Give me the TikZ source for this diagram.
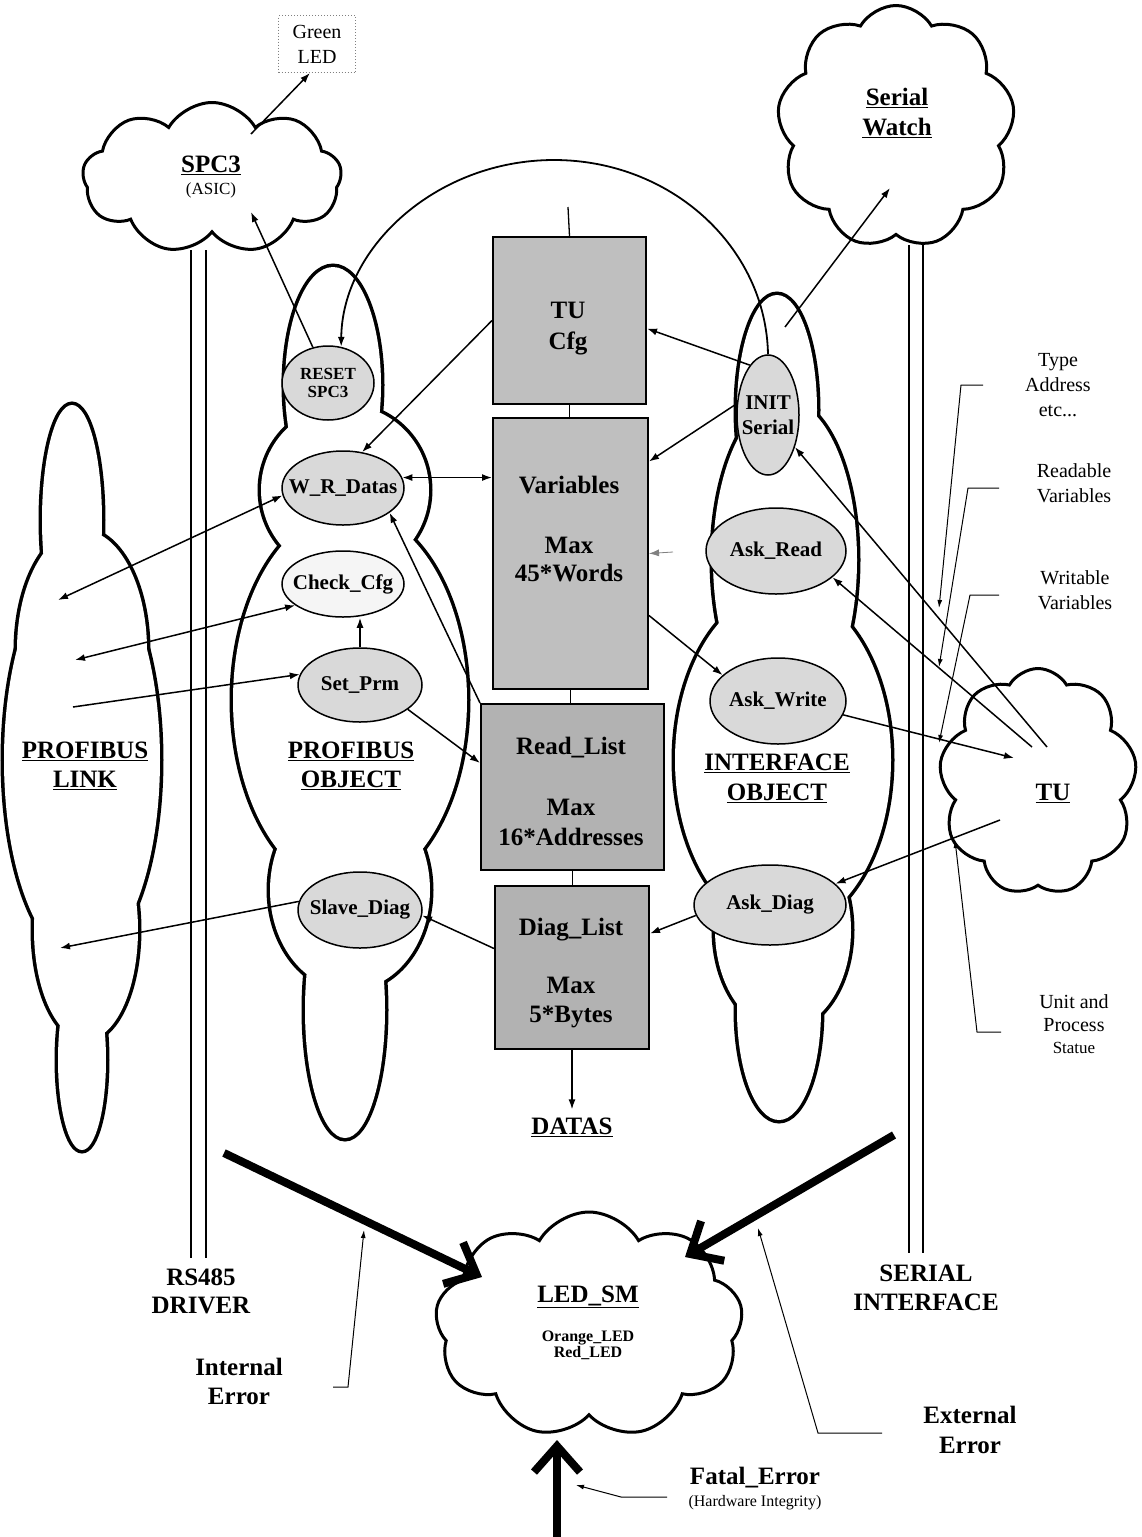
\documentclass[tikz,border=0pt]{standalone}
\usepackage{fontspec}
\setmainfont{Liberation Serif}
\usetikzlibrary{shapes.geometric,shapes.symbols,arrows.meta,calc}
\newcommand{\uln}[1]{\underline{#1}}
\newcommand{\zb}[1]{\makebox[0pt]{#1}}
\tikzset{
 lbl/.style={font=\fontsize{25}{29}\selectfont\bfseries, align=center, inner sep=0pt},
 boxT/.style={font=\fontsize{25}{28}\selectfont\bfseries, align=center, inner sep=0pt},
 ell/.style={ellipse, draw, line width=1.5pt, fill=gray!30, inner sep=0pt, font=\fontsize{21}{24}\selectfont\bfseries, align=center},
 memb/.style={rectangle, draw, line width=2pt, fill=gray!50, inner sep=0pt, anchor=north west},
 cld/.style={cloud, draw, line width=3pt, cloud puffs=9, cloud puff arc=120, cloud ignores aspect, inner sep=0pt, fill=white},
 con/.style={line width=1.5pt, -{Latex[length=10pt,width=7pt]}},
 dcon/.style={line width=1.5pt, {Latex[length=10pt,width=7pt]}-{Latex[length=10pt,width=7pt]}},
 lead/.style={line width=1pt, -{Latex[length=8pt,width=5pt]}},
 heavy/.style={line width=8pt, -{Straight Barb[length=26pt,width=46pt]}},
 note/.style={font=\fontsize{20}{25}\selectfont, align=center, inner sep=0pt},
 rail/.style={line width=1.4pt},
}
\begin{document}
\begin{tikzpicture}[x=1pt,y=-1pt]
\useasboundingbox (0,0) rectangle (1141,1537);
\fill[white] (0,0) rectangle (1141,1537);

% rails (RS485 driver and serial interface)
\draw[rail] (191,250) -- (191,1258);
\draw[rail] (206,250) -- (206,1258);
\draw[rail] (909,245) -- (909,1253);
\draw[rail] (923,245) -- (923,1253);

% object outlines: union of ellipses
\foreach \cx/\cy/\rx/\ry in {72/520/30/115, 82/650/65/120, 82/760/78/200, 86/930/52/110, 82/1060/24/90,
  333/385/48/118, 345/490/84/85, 350/700/117/190, 350/890/80/100, 345/1010/40/128,
  777/410/40/115, 785/560/72/160, 783/760/108/170, 783/930/68/100, 779/1010/42/110}
  \draw[line width=7pt] (\cx,\cy) ellipse [x radius=\rx pt, y radius=\ry pt];
\foreach \cx/\cy/\rx/\ry in {72/520/30/115, 82/650/65/120, 82/760/78/200, 86/930/52/110, 82/1060/24/90,
  333/385/48/118, 345/490/84/85, 350/700/117/190, 350/890/80/100, 345/1010/40/128,
  777/410/40/115, 785/560/72/160, 783/760/108/170, 783/930/68/100, 779/1010/42/110}
  \fill[white] (\cx,\cy) ellipse [x radius=\rx pt, y radius=\ry pt];

% clouds
\node[cld, minimum width=259pt, minimum height=151pt] (spc3) at (212,178) {};
\node[cld, minimum width=238pt, minimum height=243pt] (swatch) at (896,127) {};
\node[cld, minimum width=198pt, minimum height=227pt] (tu) at (1038,782) {};
\node[cld, minimum width=308pt, minimum height=226pt] (led) at (589,1325) {};

% green LED
\node[draw=gray, dotted, line width=1pt, minimum width=77pt, minimum height=57pt, note] (green) at (317,44) {Green\\LED};

% memory boxes
\coordinate (cfgTop) at (568,207);
\node[memb, minimum width=153pt, minimum height=167pt] (cfg) at (492,236) {};
\node[memb, minimum width=155pt, minimum height=271pt] (var) at (492,417) {};
\node[memb, minimum width=183pt, minimum height=166pt, fill=gray!60] (rlist) at (480,703) {};
\node[memb, minimum width=154pt, minimum height=163pt, fill=gray!60] (dlist) at (494,885) {};
\draw[line width=1.3pt] (cfgTop) -- (cfg.north);
\draw[line width=1.3pt] (cfg.south) -- (cfg.south |- var.north);
\draw[line width=1.3pt] (var.south) -- (var.south |- rlist.north);
\draw[line width=1.3pt] (rlist.south) -- (rlist.south |- dlist.north);

\node[boxT] (cfgT1) at (568,310) {TU};
\node[boxT] (cfgT2) at (568,343) {Cfg};
\node[boxT] (varT1) at (569,485) {Variables};
\node[boxT] (varT2) at (569,545) {Max};
\node[boxT] (varT3) at (569,573) {45*Words};
\node[boxT] (rlT1) at (571,748) {Read\_List};
\node[boxT] (rlT2) at (571,807) {Max};
\node[boxT] (rlT3) at (571,837) {16*Addresses};
\node[boxT] (dlT1) at (571,930) {Diag\_List};
\node[boxT] (dlT2) at (571,985) {Max};
\node[boxT] (dlT3) at (571,1017) {5*Bytes};

% function ellipses
\node[ell, minimum width=92pt, minimum height=74pt, font=\fontsize{17}{18}\selectfont\bfseries] (reset) at (328,383) {\zb{RESET}\\\zb{SPC3}};
\node[ell, minimum width=122pt, minimum height=74pt] (wr) at (343,488) {\zb{W\_R\_Datas}};
\node[ell, minimum width=122pt, minimum height=66pt, fill=gray!8] (check) at (343,584) {\zb{Check\_Cfg}};
\node[ell, minimum width=124pt, minimum height=74pt] (setp) at (360,685) {\zb{Set\_Prm}};
\node[ell, minimum width=124pt, minimum height=76pt] (slave) at (360,910) {\zb{Slave\_Diag}};
\node[ell, minimum width=62pt, minimum height=120pt, font=\fontsize{21}{25}\selectfont\bfseries] (init) at (768,415) {\zb{INIT}\\\zb{Serial}};
\node[ell, minimum width=140pt, minimum height=86pt] (askr) at (776,551) {\zb{Ask\_Read}};
\node[ell, minimum width=136pt, minimum height=86pt] (askw) at (778,701) {\zb{Ask\_Write}};
\node[ell, minimum width=152pt, minimum height=80pt] (askd) at (770,905) {\zb{Ask\_Diag}};

% labels
\node[lbl] (plink) at (85,766) {\uln{PROFIBUS}\\\uln{LINK}};
\node[lbl] (pobj) at (351,766) {\uln{PROFIBUS}\\\uln{OBJECT}};
\node[lbl, font=\fontsize{25}{30}\selectfont\bfseries] (iobj) at (777,778) {\uln{INTERFACE}\\\uln{OBJECT}};
\node[lbl] (spcT1) at (211,165) {\uln{SPC3}};
\node[inner sep=0pt, font=\fontsize{17}{18}\selectfont] (spcT2) at (211,190) {(ASIC)};
\node[lbl, font=\fontsize{25}{30}\selectfont\bfseries] (swT) at (897,113) {\uln{Serial}\\\uln{Watch}};
\node[lbl] (tuT) at (1053,793) {\uln{TU}};
\node[lbl] (ledT) at (588,1297) {\uln{LED\_SM}};
\node[inner sep=0pt, align=center, font=\fontsize{16}{16}\selectfont\bfseries] (ledT2) at (588,1345) {Orange\_LED\\Red\_LED};
\node[lbl] (datas) at (572,1127) {\uln{DATAS}};
\node[lbl, font=\fontsize{25}{28}\selectfont\bfseries] (rs485) at (201,1291) {RS485\\DRIVER};
\node[lbl] (serint) at (926,1288) {SERIAL\\INTERFACE};
\node[lbl, font=\fontsize{25}{29}\selectfont\bfseries] (interr) at (239,1381) {Internal\\Error};
\node[lbl, font=\fontsize{25}{30}\selectfont\bfseries] (exterr) at (970,1430) {External\\Error};
\node[lbl] (fatal) at (755,1478) {Fatal\_Error};
\node[inner sep=0pt, font=\fontsize{16}{18}\selectfont] (hw) at (755,1503) {(Hardware Integrity)};

\node[note] (n1) at (1058,385) {Type\\Address\\etc...};
\node[note] (n2) at (1074,483) {Readable\\Variables};
\node[note] (n3) at (1075,590) {Writable\\Variables};
\node[note, font=\fontsize{20}{23}\selectfont] (n4) at (1074,1013) {Unit and\\Process};
\node[inner sep=0pt, font=\fontsize{17}{18}\selectfont] (n5) at (1074,1048) {Statue};

% free ends
\coordinate (spcIn) at (251,212);
\coordinate (spcTop) at (251,134);
\coordinate (L1) at (58,600);
\coordinate (L2) at (75,660);
\coordinate (L3) at (73,707);
\coordinate (L4) at (60,948);
\coordinate (F1) at (673,552);
\coordinate (I1) at (785,327);
\coordinate (I2) at (890,188);
\coordinate (T1) at (1047,747);
\coordinate (T2) at (1032,747);
\coordinate (T3) at (1014,758);
\coordinate (T4) at (1000,820);
\coordinate (arcTop) at (554,160);

% connectors
\draw[con] (reset.113) -- (spcIn);
\draw[con] (spcTop) -- ([xshift=-7pt]green.south);
\draw[con, line width=1.8pt] (init.north) .. controls (766,247) and (671,160) .. (arcTop) .. controls (437,160) and (342,247) .. (reset.70);
\draw[con] (cfg.west) -- (wr.62);
\draw[dcon] (wr.10) -- (wr.10 -| var.west);
\draw[dcon] (L1) -- (wr.187);
\draw[dcon] (L2) -- (check.204);
\draw[con] (L3) -- (setp.170);
\draw[con] (setp.north) -- (setp.north |- check.south);
\draw[con] (setp.-27) -- ([yshift=24pt]rlist.west);
\draw[con] (rlist.north west) -- (wr.-28);
\draw[con] ([yshift=19pt]dlist.west) -- (slave.-5);
\draw[con] (slave.172) -- (L4);
\draw[con] (dlist.south) -- ([yshift=8pt]datas.north);
\draw[con] (init.110) -- ([yshift=-8pt]cfg.east);
\draw[con] (init.160) -- ([yshift=92pt]var.east);
\draw[con] ([yshift=-62pt]var.east) -- (askw.155);
\draw[con] (askd.188) -- ([yshift=34pt]dlist.east);
\draw[con, gray, line width=0.8pt] (F1) -- (var.east);
\draw[con] (I1) -- (I2);
\draw[con] (T1) -- (init.-50);
\draw[con] (T2) -- (askr.-25);
\draw[con] (askw.-12) -- (T3);
\draw[con] (T4) -- (askd.18);

% leader lines
\coordinate (a1) at (983,385); \coordinate (a2) at (961,385); \coordinate (a3) at (939,608);
\coordinate (b1) at (999,488); \coordinate (b2) at (968,488); \coordinate (b3) at (939,667);
\coordinate (c1) at (999,595); \coordinate (c2) at (970,595); \coordinate (c3) at (939,743);
\coordinate (d1) at (1001,1032); \coordinate (d2) at (977,1032); \coordinate (d3) at (955,840);
\coordinate (e1) at (333,1387); \coordinate (e2) at (348,1387); \coordinate (e3) at (364,1230);
\coordinate (f1) at (882,1433); \coordinate (f2) at (818,1433); \coordinate (f3) at (758,1228);
\coordinate (g1) at (667,1497); \coordinate (g2) at (621,1497); \coordinate (g3) at (576,1485);
\draw[lead] (a1) -- (a2) -- (a3);
\draw[lead] (b1) -- (b2) -- (b3);
\draw[lead] (c1) -- (c2) -- (c3);
\draw[lead] (d1) -- (d2) -- (d3);
\draw[lead] (e1) -- (e2) -- (e3);
\draw[lead] (f1) -- (f2) -- (f3);
\draw[lead] (g1) -- (g2) -- (g3);

% heavy error arrows
\coordinate (IE0) at (224,1153); \coordinate (IE1) at (482,1277);
\coordinate (EE0) at (894,1135); \coordinate (EE1) at (685,1257);
\coordinate (FE0) at (557,1537); \coordinate (FE1) at (557,1440);
\draw[heavy] (IE0) -- (IE1);
\draw[heavy] (EE0) -- (EE1);
\draw[heavy] (FE0) -- (FE1);
\end{tikzpicture}
\end{document}
